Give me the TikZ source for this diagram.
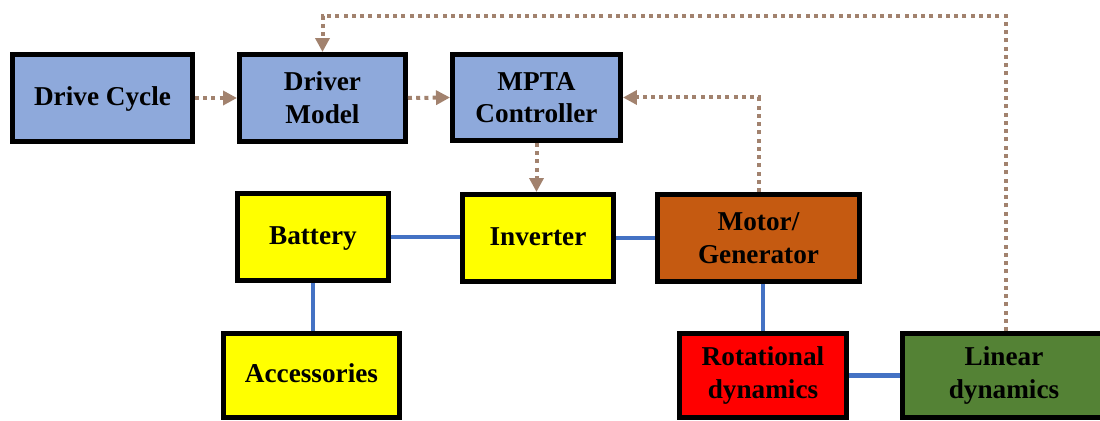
\documentclass[tikz,border=0pt]{standalone}
\usepackage{fontspec}
\setmainfont{Liberation Serif}[BoldFont={Liberation Serif Bold}]
\usetikzlibrary{arrows.meta}
\definecolor{boxblue}{HTML}{8EA9DB}
\definecolor{boxyellow}{HTML}{FFFF00}
\definecolor{boxorange}{HTML}{C55A11}
\definecolor{boxred}{HTML}{FF0000}
\definecolor{boxgreen}{HTML}{548235}
\definecolor{signal}{HTML}{A2826E}
\definecolor{power}{HTML}{4472C4}
\begin{document}
\begin{tikzpicture}[x=0.02cm,y=-0.02cm,
  block/.style={draw=black, line width=0.1cm, rectangle, inner sep=0pt,
    align=center, font=\fontsize{15.5}{18.6}\selectfont\bfseries},
  oneline/.style={text height=0.8em, text depth=0pt},
  sig/.style={draw=signal, line width=0.08cm, dash pattern=on 0.08cm off 0.085cm,
    -{Triangle[length=0.28cm,width=0.28cm]}},
  link/.style={draw=power, line width=0.09cm}]
\useasboundingbox (0,0) rectangle (1100,421);
\clip (0,0) rectangle (1100,421);

% control chain
\node[block, oneline, fill=boxblue, minimum width=3.6cm, minimum height=1.74cm] (drive) at (102.5,98) {Drive Cycle};
\node[block, fill=boxblue, minimum width=3.32cm, minimum height=1.74cm] (driver) at (322.5,98) {Driver\\Model};
\node[block, fill=boxblue, minimum width=3.36cm, minimum height=1.72cm] (mpta) at (536.5,97.5) {MPTA\\Controller};

% electrical path
\node[block, oneline, fill=boxyellow, minimum width=3.02cm, minimum height=1.74cm] (battery) at (313,237) {Battery};
\node[block, oneline, fill=boxyellow, minimum width=3.02cm, minimum height=1.74cm] (inverter) at (538,238) {Inverter};
\node[block, fill=boxorange, minimum width=4.04cm, minimum height=1.74cm] (motor) at (758.5,238) {Motor/\\Generator};
\node[block, oneline, fill=boxyellow, minimum width=3.52cm, minimum height=1.68cm] (acc) at (311.5,375.5) {Accessories};

% mechanical path
\node[block, fill=boxred, minimum width=3.34cm, minimum height=1.68cm] (rot) at (763,375.5) {Rotational\\dynamics};
\node[block, fill=boxgreen, minimum width=4.06cm, minimum height=1.68cm] (lin) at (1004,375.5) {Linear\\dynamics};

% power links
\draw[link] (battery.east) -- (battery.east -| inverter.west);
\draw[link] (inverter.east |- motor.west) -- (motor.west);
\draw[link] (battery.south) -- (battery.south |- acc.north);
\draw[link] (rot.north |- motor.south) -- (rot.north);
\draw[link] (rot.east) -- (lin.west);

% signal flow
\draw[sig] (drive.east) -- (driver.west);
\draw[sig] (driver.east) -- (mpta.west);
\draw[sig] (mpta.south) -- (mpta.south |- inverter.north);
\draw[sig] (motor.north) |- (mpta.east);
\coordinate (fbtop) at (1006,16);
\draw[sig] (fbtop |- lin.north) -- (fbtop) -| (driver.north);
\end{tikzpicture}
\end{document}
